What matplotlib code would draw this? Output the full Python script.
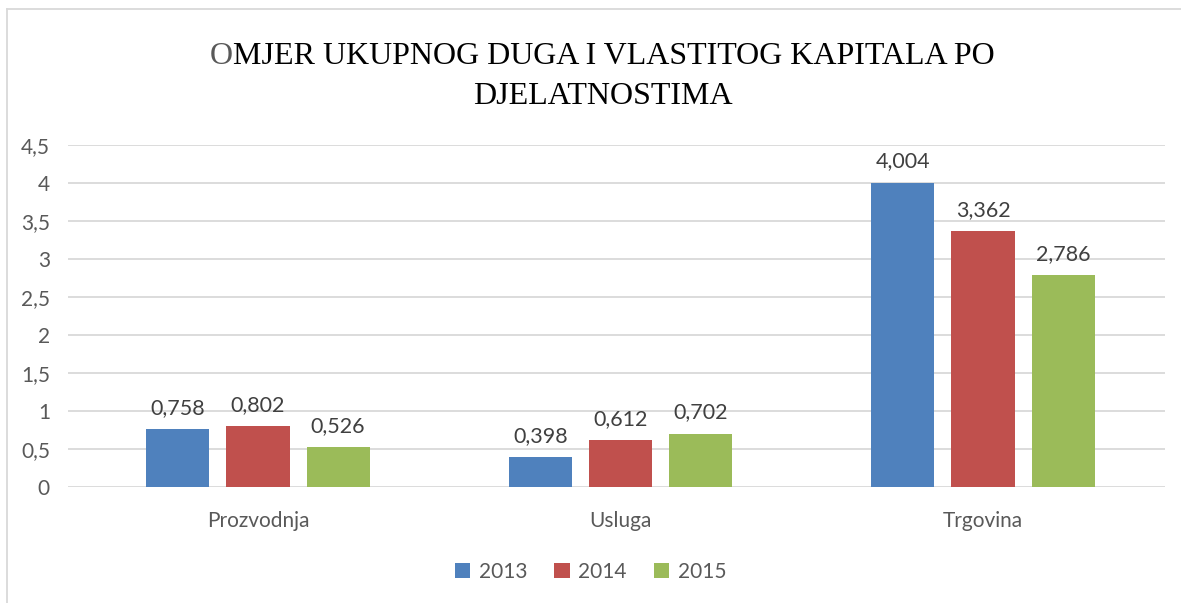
import numpy as np
import matplotlib.pyplot as plt
from matplotlib.lines import Line2D

categories = ["Prozvodnja", "Usluga", "Trgovina"]
years = ["2013", "2014", "2015"]
v2013 = [0.758, 0.398, 4.004]
v2014 = [0.802, 0.612, 3.362]
v2015 = [0.526, 0.702, 2.786]
yticks = [0, 0.5, 1, 1.5, 2, 2.5, 3, 3.5, 4, 4.5]

colors = ["#4F81BD", "#C0504D", "#9BBB59"]
txt = "#595959"
plt.rcParams['font.family'] = ['Lato', 'DejaVu Sans']

fig = plt.figure(figsize=(11.81, 6.03), dpi=100)
ax = fig.add_axes([68 / 1181, 1 - 487 / 603, 1097 / 1181, 342 / 603])

x = np.arange(len(categories))
step = 0.221
width = 0.174
for i, (vals, yr) in enumerate(zip([v2013, v2014, v2015], years)):
    bars = ax.bar(x + (i - 1) * step, vals, width, color=colors[i], label=yr, zorder=3)
    for b, v in zip(bars, vals):
        ax.annotate(f"{v:.3f}".replace(".", ","), (b.get_x() + b.get_width() / 2, v),
                    xytext=(0, 8), textcoords="offset points", ha="center", va="bottom",
                    fontsize=15.5, color="#404040")

ax.set_xlim(-0.524, 2.502)
ax.set_ylim(0, 4.5)
ax.set_yticks(yticks)
ax.set_yticklabels([str(t).replace(".", ",").replace(",0", "") if t != 0 else "0" for t in yticks])
ax.set_xticks(x)
ax.set_xticklabels(categories)
ax.tick_params(axis="both", length=0, labelsize=15, labelcolor=txt)
ax.tick_params(axis="y", pad=13)
ax.tick_params(axis="x", pad=17)
ax.grid(axis="y", color="#D9D9D9", linewidth=1.3, zorder=0)
for s in ax.spines.values():
    s.set_visible(False)

ax.legend(loc="center", bbox_to_anchor=(0.5, (603 - 572) / 603), bbox_transform=fig.transFigure,
          ncol=3, frameon=False, fontsize=15, labelcolor=txt, handlelength=0.75, handleheight=0.75,
          handletextpad=0.4, columnspacing=1.3)

# title: first letter gray
title_font = dict(family="Liberation Serif", fontsize=23)
line1 = "OMJER UKUPNOG DUGA I VLASTITOG KAPITALA PO"
renderer = fig.canvas.get_renderer()
t_o = fig.text(0, 0, "O", color=txt, **title_font)
t_rest = fig.text(0, 0, line1[1:], color="black", **title_font)
w_o = t_o.get_window_extent(renderer).width
w_rest = t_rest.get_window_extent(renderer).width
x0 = 0.5 * 1181 - (w_o + w_rest) / 2 + 12
y1 = 1 - 56 / 603
t_o.set_position((x0 / 1181, y1))
t_o.set_va("center")
t_rest.set_position(((x0 + w_o) / 1181, y1))
t_rest.set_va("center")
fig.text(0.5 + 12 / 1181, 1 - 97 / 603, "DJELATNOSTIMA", ha="center", va="center", color="black", **title_font)

# chart border (top and left)
fig.add_artist(Line2D([7 / 1181, 7 / 1181], [0, 1 - 9 / 603], color="#D9D9D9", linewidth=1.3))
fig.add_artist(Line2D([7 / 1181, 1], [1 - 9 / 603, 1 - 9 / 603], color="#D9D9D9", linewidth=1.3))

fig.savefig("out.png", dpi=100, facecolor="white")
